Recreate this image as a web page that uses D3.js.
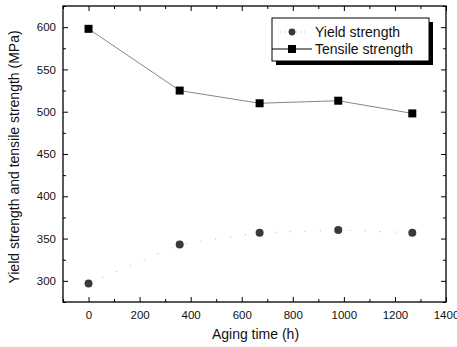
<!DOCTYPE html>
<html>
<head>
<meta charset="utf-8">
<script src="https://cdn.jsdelivr.net/npm/d3@7"></script>
<style>
body { margin: 0; background: #fff; }
text { font-family: "Liberation Sans", Arial, sans-serif; fill: #111; }
</style>
</head>
<body>
<div id="chart"></div>
<script>
// aging time (h)
var agingTime = [0, 357, 670, 978, 1268];
// strengths (MPa)
var yieldStrength = [297, 343, 357, 360, 357];
var tensileStrength = [598, 525, 510, 513, 498];
var xTicks = [0, 200, 400, 600, 800, 1000, 1200, 1400];
var yTicks = [300, 350, 400, 450, 500, 550, 600];
var seriesNames = ["Yield strength", "Tensile strength"];

var width = 457, height = 347;
var plotLeft = 63, plotRight = 446, plotTop = 6, plotBottom = 302;

var svg = d3.select("#chart").append("svg")
    .attr("width", width)
    .attr("height", height);

var x = d3.scaleLinear().domain([-100, 1400]).range([plotLeft, plotRight]);
var y = d3.scaleLinear().domain([275, 625]).range([plotBottom, plotTop]);

//minor ticks every half step
var xMinor = d3.range(-100, 1401, 100).filter(function(v){ return xTicks.indexOf(v) < 0; });
var yMinor = d3.range(275, 626, 25).filter(function(v){ return yTicks.indexOf(v) < 0; });

function drawAxis(axis, transform, labels){
    var g = svg.append("g").attr("transform", transform).call(axis);
    g.select(".domain").remove();
    g.selectAll("line").attr("stroke", "#000").attr("stroke-width", 1);
    if(labels){
        g.selectAll("text").attr("font-size", "11.5px").attr("fill", "#111")
            .attr("font-family", "'Liberation Sans', Arial, sans-serif");
    }
    return g;
}

//bottom
drawAxis(d3.axisBottom(x).tickValues(xTicks).tickSize(-5).tickPadding(9).tickFormat(d3.format("d")), "translate(0," + plotBottom + ")", true);
drawAxis(d3.axisBottom(x).tickValues(xMinor).tickSize(-3).tickFormat(""), "translate(0," + plotBottom + ")", false);
//top
drawAxis(d3.axisTop(x).tickValues(xTicks).tickSize(-5).tickFormat(""), "translate(0," + plotTop + ")", false);
drawAxis(d3.axisTop(x).tickValues(xMinor).tickSize(-3).tickFormat(""), "translate(0," + plotTop + ")", false);
//left
drawAxis(d3.axisLeft(y).tickValues(yTicks).tickSize(-5).tickPadding(7).tickFormat(d3.format("d")), "translate(" + plotLeft + ",0)", true);
drawAxis(d3.axisLeft(y).tickValues(yMinor).tickSize(-3).tickFormat(""), "translate(" + plotLeft + ",0)", false);
//right
drawAxis(d3.axisRight(y).tickValues(yTicks).tickSize(-5).tickFormat(""), "translate(" + plotRight + ",0)", false);
drawAxis(d3.axisRight(y).tickValues(yMinor).tickSize(-3).tickFormat(""), "translate(" + plotRight + ",0)", false);

//frame
svg.append("rect")
    .attr("x", plotLeft).attr("y", plotTop)
    .attr("width", plotRight - plotLeft).attr("height", plotBottom - plotTop)
    .attr("fill", "none").attr("stroke", "#000").attr("stroke-width", 1.3);

var yieldData = agingTime.map(function(t, i){ return [t, yieldStrength[i]]; });
var tensileData = agingTime.map(function(t, i){ return [t, tensileStrength[i]]; });

var line = d3.line().x(function(d){ return x(d[0]); }).y(function(d){ return y(d[1]); });

svg.append("path").datum(yieldData)
    .attr("d", line)
    .attr("fill", "none").attr("stroke", "#999")
    .attr("stroke-width", 0.8).attr("stroke-dasharray", "1,14");

svg.append("path").datum(tensileData)
    .attr("d", line)
    .attr("fill", "none").attr("stroke", "#666")
    .attr("stroke-width", 0.8);

svg.selectAll(".yieldPt").data(yieldData).enter()
    .append("circle")
    .attr("cx", function(d){ return x(d[0]); })
    .attr("cy", function(d){ return y(d[1]); })
    .attr("r", 4)
    .attr("fill", "#3a3a3a");

svg.selectAll(".tensilePt").data(tensileData).enter()
    .append("rect")
    .attr("x", function(d){ return x(d[0]) - 4; })
    .attr("y", function(d){ return y(d[1]) - 4; })
    .attr("width", 8).attr("height", 8)
    .attr("fill", "#000");

//axis titles
svg.append("text")
    .attr("x", (plotLeft + plotRight) / 2 + 1).attr("y", 339)
    .attr("text-anchor", "middle").attr("font-size", "14px")
    .text("Aging time (h)");

svg.append("text")
    .attr("transform", "translate(19," + ((plotTop + plotBottom) / 2 + 3) + ") rotate(-90)")
    .attr("text-anchor", "middle").attr("font-size", "14px")
    .text("Yield strength and tensile strength (MPa)");

//legend with shadow
var lg = svg.append("g").attr("transform", "translate(272,18)");
lg.append("rect").attr("x", 4).attr("y", 4).attr("width", 157).attr("height", 43).attr("fill", "#000");
lg.append("rect").attr("x", 0).attr("y", 0).attr("width", 157).attr("height", 43)
    .attr("fill", "#fff").attr("stroke", "#000").attr("stroke-width", 1);

lg.append("line").attr("x1", 8).attr("x2", 36).attr("y1", 14).attr("y2", 14)
    .attr("stroke", "#aaa").attr("stroke-width", 0.8).attr("stroke-dasharray", "1,3");
lg.append("circle").attr("cx", 20).attr("cy", 14).attr("r", 3.4).attr("fill", "#3a3a3a");
lg.append("line").attr("x1", 0).attr("x2", 40).attr("y1", 31).attr("y2", 31)
    .attr("stroke", "#000").attr("stroke-width", 1);
lg.append("rect").attr("x", 16).attr("y", 27).attr("width", 8).attr("height", 8).attr("fill", "#000");

lg.selectAll(".lgText").data(seriesNames).enter()
    .append("text")
    .attr("x", 43)
    .attr("y", function(d, i){ return 19 + i * 17; })
    .attr("font-size", "14px")
    .text(function(d){ return d; });
</script>
</body>
</html>
